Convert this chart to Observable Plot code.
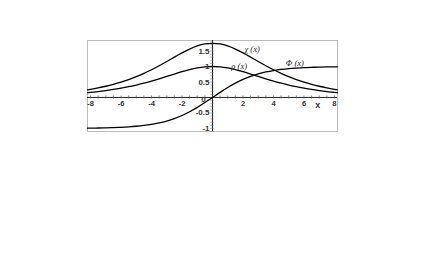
<!DOCTYPE html>
<html><head><meta charset="utf-8">
<script src="https://cdn.jsdelivr.net/npm/d3@7"></script>
<script src="https://cdn.jsdelivr.net/npm/@observablehq/plot@0.6"></script>
<style>html,body{margin:0;padding:0;background:#fff;}</style>
</head><body><div id="chart"></div>
<script>
// sample positions (x) and values
const xs = [-8.2,-8,-7.5,-7,-6.5,-6,-5.5,-5,-4.5,-4,-3.5,-3,-2.5,-2,-1.5,-1,-0.5,0,0.5,1,1.5,2,2.5,3,3.5,4,4.5,5,5.5,6,6.5,7,7.5,8,8.2];
const chi = [0.248,0.264,0.309,0.362,0.424,0.495,0.577,0.671,0.777,0.895,1.025,1.162,1.303,1.440,1.563,1.663,1.728,1.75,1.728,1.663,1.563,1.440,1.303,1.162,1.025,0.895,0.777,0.671,0.577,0.495,0.424,0.362,0.309,0.264,0.248];
const rho = [0.153,0.163,0.190,0.222,0.258,0.300,0.347,0.402,0.462,0.530,0.602,0.679,0.757,0.832,0.899,0.953,0.988,1.0,0.988,0.953,0.899,0.832,0.757,0.679,0.602,0.530,0.462,0.402,0.347,0.300,0.258,0.222,0.190,0.163,0.153];
const phi = [-0.991,-0.990,-0.987,-0.981,-0.974,-0.964,-0.950,-0.931,-0.905,-0.870,-0.823,-0.762,-0.682,-0.583,-0.462,-0.322,-0.165,0,0.165,0.322,0.462,0.583,0.682,0.762,0.823,0.870,0.905,0.931,0.950,0.964,0.974,0.981,0.987,0.990,0.991];

const xTickLabels = [-8,-6,-4,-2,2,4,6,8];
const yTickLabels = [-1,-0.5,0.5,1,1.5];
const xMinor = d3.range(-8, 8.01, 0.5);
const yMinor = d3.range(-1.1, 1.84, 0.1);
const curveLabels = [
  {name:"χ (x)", x:2.6, y:1.57},
  {name:"ρ (x)", x:1.75, y:1.01},
  {name:"Φ (x)", x:5.4, y:1.12}
];

const series = [
  ...xs.map((x,i)=>({s:"chi", x, y:chi[i]})),
  ...xs.map((x,i)=>({s:"rho", x, y:rho[i]})),
  ...xs.map((x,i)=>({s:"phi", x, y:phi[i]}))
];

const tickFont = "Liberation Sans, Arial, sans-serif";
const chart = Plot.plot({
  width: 436,
  height: 273,
  marginLeft: 87,
  marginRight: 99,
  marginTop: 40,
  marginBottom: 142,
  style: {background:"#fff"},
  x: {domain:[-8.2, 8.2], axis:null},
  y: {domain:[-1.1, 1.84], axis:null},
  marks: [
    Plot.frame({stroke:"#bbb", strokeWidth:1}),
    Plot.ruleY([0], {stroke:"#222", strokeWidth:1}),
    Plot.ruleX([0], {stroke:"#222", strokeWidth:1}),
    Plot.ruleX(xMinor, {x:d=>d, y1:-0.05, y2:0.05, stroke:"#555", strokeWidth:0.7}),
    Plot.ruleY(yMinor, {y:d=>d, x1:-0.12, x2:0.12, stroke:"#777", strokeWidth:0.5}),
    Plot.line(series, {x:"x", y:"y", z:"s", curve:"natural", stroke:"#000", strokeWidth:1.3}),
    Plot.text(xTickLabels, {x:d=>d, y:0, dy:6, text:d=>String(d), fontSize:7.5, fontWeight:"bold", fill:"#333", fontFamily:tickFont}),
    Plot.text(yTickLabels, {x:0, y:d=>d, dx:-3, textAnchor:"end", text:d=>String(d), fontSize:8, fontWeight:"bold", fill:"#333", fontFamily:tickFont}),
    Plot.text([0], {x:0, y:0, dx:-9, dy:2, text:d=>"0", fontSize:8, fontWeight:"bold", fill:"#333", fontFamily:tickFont}),
    Plot.text(["x"], {x:6.9, y:0, dy:8, text:d=>d, fontSize:9, fontWeight:"bold", fill:"#333", fontFamily:tickFont}),
    Plot.text(curveLabels, {x:"x", y:"y", text:"name", fontSize:8.5, fill:"#222", fontFamily:"Liberation Serif, serif", fontStyle:"italic"})
  ]
});
document.getElementById("chart").appendChild(chart);
</script>
</body></html>
